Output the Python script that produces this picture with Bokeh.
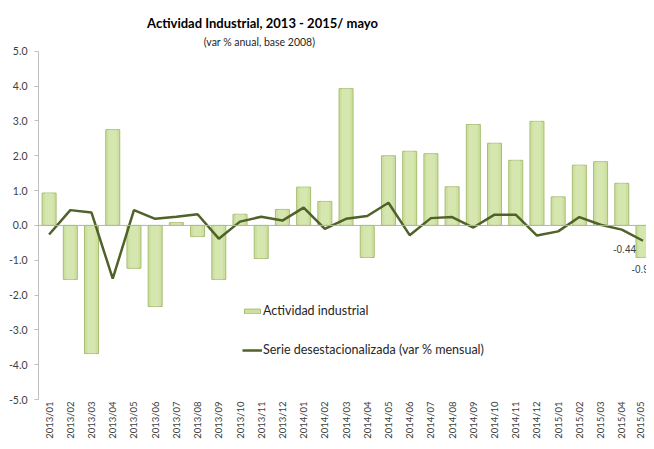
from bokeh.plotting import figure
from bokeh.models import (ColumnDataSource, Range1d, Span, Label, Legend, LegendItem,
                          FixedTicker, PrintfTickFormatter)
from bokeh.core.properties import value
from bokeh.embed import file_html
from bokeh.resources import INLINE

# ---- data ----
months = ["2013/01", "2013/02", "2013/03", "2013/04", "2013/05", "2013/06", "2013/07",
          "2013/08", "2013/09", "2013/10", "2013/11", "2013/12", "2014/01", "2014/02",
          "2014/03", "2014/04", "2014/05", "2014/06", "2014/07", "2014/08", "2014/09",
          "2014/10", "2014/11", "2014/12", "2015/01", "2015/02", "2015/03", "2015/04",
          "2015/05"]
actividad = [0.93, -1.55, -3.68, 2.75, -1.23, -2.33, 0.08, -0.32, -1.55, 0.32, -0.95,
             0.46, 1.10, 0.69, 3.93, -0.92, 2.00, 2.13, 2.06, 1.11, 2.90, 2.36, 1.87,
             2.99, 0.82, 1.73, 1.83, 1.21, -0.92]
desest = [-0.26, 0.44, 0.37, -1.53, 0.44, 0.19, 0.25, 0.32, -0.38, 0.11, 0.25, 0.14,
          0.51, -0.10, 0.19, 0.27, 0.65, -0.28, 0.21, 0.24, -0.06, 0.31, 0.31, -0.29,
          -0.17, 0.24, 0.02, -0.12, -0.44]
y_ticks = [-5.0, -4.0, -3.0, -2.0, -1.0, 0.0, 1.0, 2.0, 3.0, 4.0, 5.0]
title_text = "Actividad Industrial, 2013 - 2015/ mayo"
subtitle_text = "(var % anual, base 2008)"
bar_label = "Actividad industrial"
line_label = "Serie desestacionalizada (var % mensual)"

FONT = "Lato"
idx = list(range(len(months)))
src = ColumnDataSource(dict(x=idx, act=actividad, des=desest, m=months))

# ---- layout constants (pixels) ----
W, H = 646, 441
LEFT = 38
FRAME_BOTTOM_EST = 400          # expected frame bottom (canvas px)
TOP_OF_5 = 51                   # where the 5.0 tick should sit (canvas px)
s = (FRAME_BOTTOM_EST - TOP_OF_5) / 10.0      # px per unit
y_top = 5 + TOP_OF_5 / s
x_end = 28.165

p = figure(width=W, height=H, output_backend="svg", toolbar_location=None, title=None,
           x_range=Range1d(-0.5, x_end), y_range=Range1d(-5, y_top),
           min_border_left=LEFT, min_border_right=0, min_border_top=0, min_border_bottom=0,
           background_fill_color="white", border_fill_color="white")
p.outline_line_color = None
p.grid.visible = False

bars = p.vbar(x="x", top="act", width=0.66, source=src,
              fill_color="#cde0a0", line_color="#a6bd72", line_width=1)
p.vbar(x="x", top="act", width=0.40, source=src,
       fill_color="#dbeab8", line_color=None, fill_alpha=0.6)

p.add_layout(Span(location=0, dimension="width", line_color="#b3b3b3", line_width=1))

line = p.line(x="x", y="des", source=src, line_color="#4f6228", line_width=2.5)

last = len(months) - 1
p.text(x=[idx[last]], y=[desest[last]], text=[f"{desest[last]:.2f}"],
       text_font=value("Liberation Sans"), text_font_size="10px", text_color="#404040",
       text_align="right", text_baseline="middle", x_offset=-7, y_offset=8)
p.text(x=[idx[last]], y=[actividad[last]], text=[f"{actividad[last]:.2f}"],
       text_font=value("Liberation Sans"), text_font_size="10px", text_color="#404040",
       text_align="center", text_baseline="middle", y_offset=12)

p.yaxis.ticker = FixedTicker(ticks=y_ticks)
p.yaxis.bounds = (-5, 5)
p.yaxis.formatter = PrintfTickFormatter(format="%.1f")
p.yaxis.axis_line_color = "#bfbfbf"
p.yaxis.major_tick_line_color = "#bfbfbf"
p.yaxis.major_tick_out = 4
p.yaxis.major_tick_in = 0
p.yaxis.minor_tick_line_color = None
p.yaxis.major_label_standoff = 7
p.yaxis.major_label_text_font = FONT
p.yaxis.major_label_text_font_size = "10.5px"
p.yaxis.major_label_text_color = "#404040"

p.xaxis.ticker = FixedTicker(ticks=idx)
p.xaxis.major_label_overrides = {i: m for i, m in zip(idx, months)}
p.xaxis.major_label_orientation = 1.5708
p.xaxis.axis_line_color = None
p.xaxis.major_tick_line_color = None
p.xaxis.major_tick_out = 0
p.xaxis.major_tick_in = 0
p.xaxis.minor_tick_line_color = None
p.xaxis.minor_tick_out = 0
p.xaxis.major_label_standoff = 2
p.xaxis.major_label_text_font = FONT
p.xaxis.major_label_text_font_size = "9.5px"
p.xaxis.major_label_text_color = "#404040"

legend = Legend(items=[LegendItem(label=bar_label, renderers=[bars]),
                       LegendItem(label=line_label, renderers=[line])],
                location=(204, 42), glyph_width=20, glyph_height=6, label_height=6,
                spacing=24, padding=0, margin=0, label_standoff=1,
                border_line_color=None, background_fill_alpha=0,
                label_text_font=FONT, label_text_font_size="12.5px", label_text_color="#262626")
p.add_layout(legend)

# titles: centred at fixed pixel positions above the 5.0 line
p.add_layout(Label(x=262 - LEFT, y=y_top - 23 / s, x_units="screen", y_units="data",
                   text=title_text, text_font=FONT, text_font_size="13px",
                   text_font_style="bold", text_color="#000000",
                   text_align="center", text_baseline="middle"))
p.add_layout(Label(x=259 - LEFT, y=y_top - 42 / s, x_units="screen", y_units="data",
                   text=subtitle_text, text_font=FONT, text_font_size="10.5px",
                   text_color="#262626", text_align="center", text_baseline="middle"))

open("out.html", "w").write(file_html(p, INLINE))
